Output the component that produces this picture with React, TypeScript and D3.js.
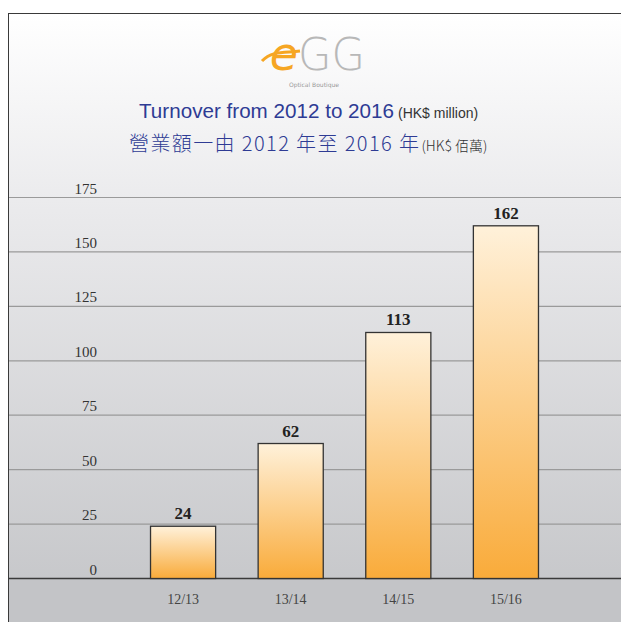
import React from 'react';
import * as d3 from 'd3';

const categories = ['12/13', '13/14', '14/15', '15/16'];
const turnover = [24, 62, 113, 162];
const yTicks = [0, 25, 50, 75, 100, 125, 150, 175];

const W = 621;
const H = 622;

export default function App() {
  const x = d3.scaleBand().domain(categories).range([129, 560]).paddingInner(0.395).paddingOuter(0.2);
  const y = d3.scaleLinear().domain([0, 175]).range([578.5, 197.5]);

  return (
    <svg width={W} height={H} style={{ position: 'absolute', left: 0, top: 0 }}>
      <defs>
        <linearGradient id="bg" x1="0" y1="0" x2="0" y2="1">
          <stop offset="0" stopColor="#ffffff" />
          <stop offset="0.3" stopColor="#ebebed" />
          <stop offset="1" stopColor="#c2c3c6" />
        </linearGradient>
        <linearGradient id="bar" x1="0" y1="0" x2="0" y2="1">
          <stop offset="0" stopColor="#fff1da" />
          <stop offset="1" stopColor="#f9ab3a" />
        </linearGradient>
      </defs>
      <rect x={0} y={0} width={W} height={H} fill="#ffffff" />
      <rect x={8.5} y={13.5} width={W} height={H} fill="url(#bg)" stroke="#3a3a3a" strokeWidth={1} />

      {/* logo */}
      <g>
        <text x={298} y={70} textAnchor="end" fontFamily="DejaVu Sans" fontWeight="200"
          fontSize={46} fill="#f6a623" fontStyle="italic">e</text>
        <path d="M262,61 C272,50 286,53 300,51" fill="none" stroke="#f6a623" strokeWidth={3} />
        <text x={298} y={70} fontFamily="DejaVu Sans" fontWeight="200" fontSize={44} fill="#b8b8b8"
          textLength={67} lengthAdjust="spacingAndGlyphs">GG</text>
        <text x={314} y={87} textAnchor="middle" fontFamily="DejaVu Sans" fontSize={6} fill="#999">Optical Boutique</text>
      </g>

      {/* title */}
      <text x={139} y={118} fontFamily="Liberation Sans" fill="#2e3b94">
        <tspan fontSize={20} textLength={255} lengthAdjust="spacingAndGlyphs">Turnover from 2012 to 2016</tspan>
        <tspan fontSize={14} fill="#333" dx={4}>(HK$ million)</tspan>
      </text>
      <text x={129} y={151} fill="#2e3b94" fontFamily="Noto Sans CJK TC">
        <tspan fontSize={20} fontWeight="300" textLength={290} lengthAdjust="spacing">營業額一由 2012 年至 2016 年</tspan>
        <tspan fontSize={14} fill="#333" fontWeight="300" dx={1}>(HK$ 佰萬)</tspan>
      </text>

      {/* below axis band */}
      <rect x={9} y={y(0)} width={W} height={H - y(0)} fill="#c3c4c7" />

      {/* gridlines */}
      {yTicks.map((t) => (
        <g key={t}>
          <line x1={9} x2={W} y1={y(t)} y2={y(t)} stroke={t === 0 ? '#3a3a3a' : '#9a9a9a'} strokeWidth={t === 0 ? 1.5 : 1.2} />
          <text x={97} y={y(t) - 4} textAnchor="end" fontFamily="Liberation Serif" fontSize={15} fill="#333">{t}</text>
        </g>
      ))}

      {/* bars */}
      {categories.map((c, i) => (
        <g key={c}>
          <rect x={x(c)} y={y(turnover[i])} width={x.bandwidth()} height={y(0) - y(turnover[i])}
            fill="url(#bar)" stroke="#333" strokeWidth={1.3} />
          <text x={(x(c) as number) + x.bandwidth() / 2} y={y(turnover[i]) - 7} textAnchor="middle"
            fontFamily="Liberation Serif" fontWeight="bold" fontSize={17} fill="#222">{turnover[i]}</text>
          <text x={(x(c) as number) + x.bandwidth() / 2} y={604} textAnchor="middle"
            fontFamily="Liberation Serif" fontSize={14} fill="#444">{c}</text>
        </g>
      ))}
    </svg>
  );
}
